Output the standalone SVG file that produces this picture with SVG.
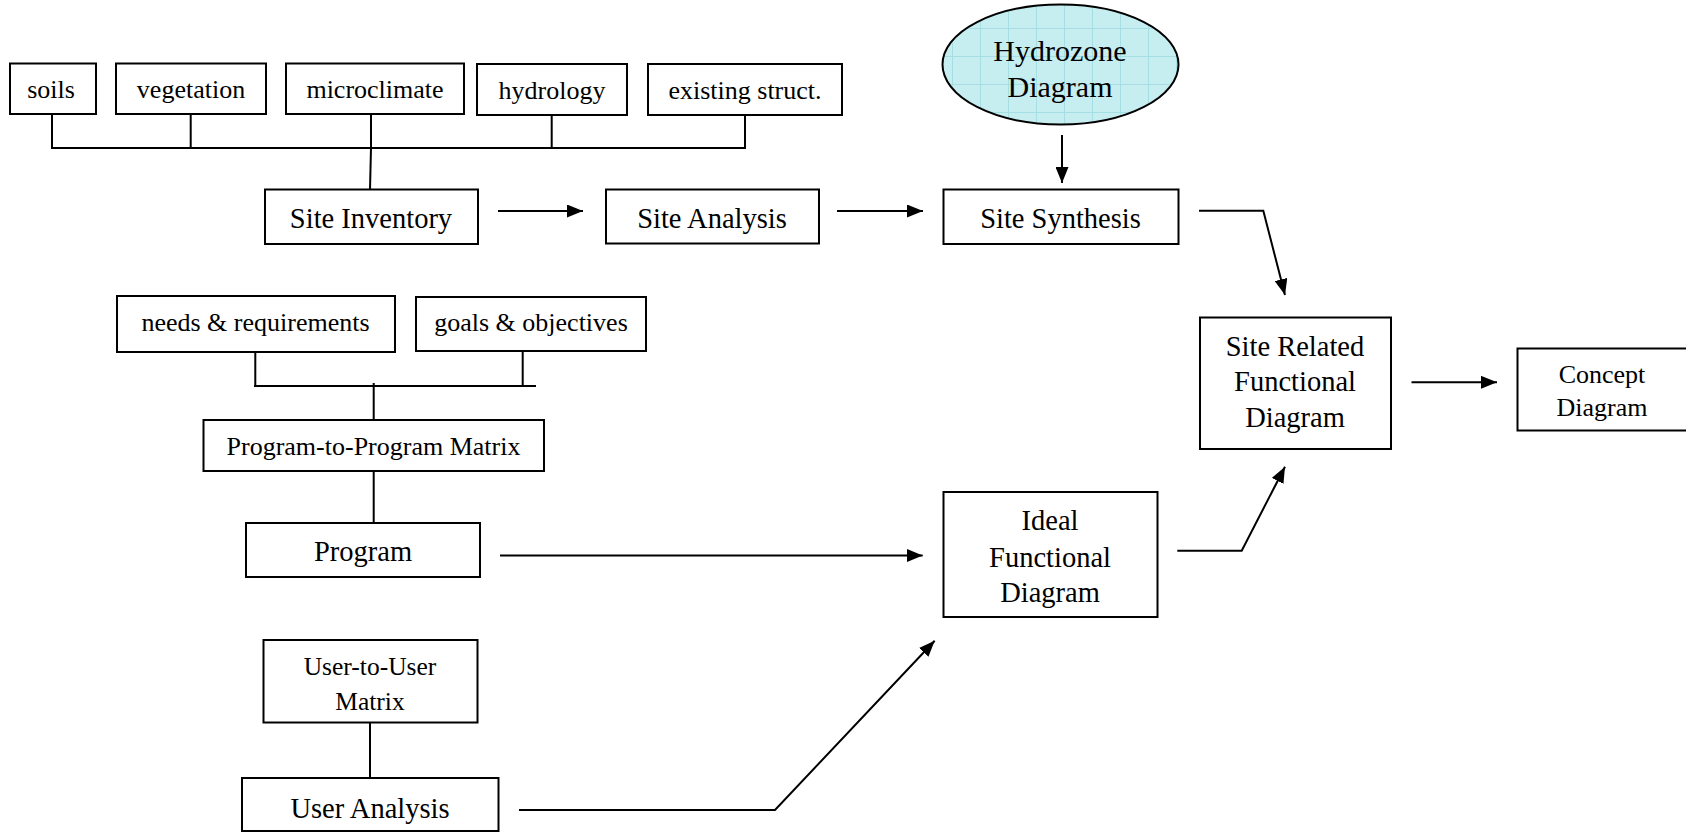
<svg xmlns="http://www.w3.org/2000/svg" width="1686" height="832" viewBox="0 0 1686 832">
<style>
.box{fill:#fff;stroke:#000;stroke-width:2}
.t{font-family:"Liberation Serif","Times New Roman",serif;fill:#000;text-anchor:middle}
.s{font-size:26px}
.m{font-size:28.5px}
.c{fill:none;stroke:#000;stroke-width:2}
.a{fill:none;stroke:#000;stroke-width:2;marker-end:url(#ah)}
</style>
<defs>
<marker id="ah" viewBox="0 0 16 13" refX="16" refY="6.5" markerWidth="16" markerHeight="13" markerUnits="userSpaceOnUse" orient="auto">
<path d="M0,0 L16,6.5 L0,13 z" fill="#000"/>
</marker>
<pattern id="grid" patternUnits="userSpaceOnUse" x="0" y="0" width="28" height="28">
<rect width="28" height="28" fill="#c6edef"/>
<path d="M0,0.5 H28 M0.5,0 V28" stroke="#a6dfe3" stroke-width="1"/>
</pattern>
</defs>
<rect width="1686" height="832" fill="#fff"/>

<g id="connectors">
<path class="c" d="M52,114 V148 H745 V115"/>
<path class="c" d="M190.7,114 V148 M371,114 V148 M551.7,115 V148"/>
<path class="c" d="M371,148 L370,189.5"/>
<path class="a" d="M498,211 H583"/>
<path class="a" d="M837,211 H923"/>
<path class="a" d="M1062,135 V183"/>
<path class="a" d="M1199,210.7 H1263.3 L1285,295"/>
<path class="c" d="M255.3,352 V386 M254,386 H536 M522.7,351 V386 M373.7,383 V420 M373.7,471 V523"/>
<path class="a" d="M500,555.5 H922.7"/>
<path class="c" d="M370,722.5 V778"/>
<path class="a" d="M519,810 H775 L934.7,640.7"/>
<path class="a" d="M1177.3,550.7 H1241.7 L1285,466.7"/>
<path class="a" d="M1411.5,382.3 H1497"/>
</g>

<g id="soils"><rect class="box" x="10" y="63.5" width="86" height="50.5"/><text class="t s" x="51" y="98">soils</text></g>
<g id="vegetation"><rect class="box" x="116" y="63.5" width="150" height="50.5"/><text class="t s" x="191" y="98">vegetation</text></g>
<g id="microclimate"><rect class="box" x="286" y="63.5" width="178" height="50.5"/><text class="t s" x="375" y="98">microclimate</text></g>
<g id="hydrology"><rect class="box" x="477" y="64" width="150" height="51"/><text class="t s" x="552" y="99">hydrology</text></g>
<g id="existing-struct"><rect class="box" x="648" y="64" width="194" height="51"/><text class="t s" x="745" y="99">existing struct.</text></g>

<g id="hydrozone"><ellipse cx="1060.5" cy="64.5" rx="118" ry="60" fill="url(#grid)" stroke="#000" stroke-width="2"/><text class="t" style="font-size:30px" x="1060" y="61">Hydrozone</text><text class="t" style="font-size:30px" x="1060" y="97">Diagram</text></g>

<g id="site-inventory"><rect class="box" x="265" y="189.5" width="213" height="54.5"/><text class="t m" x="371" y="228">Site Inventory</text></g>
<g id="site-analysis"><rect class="box" x="606" y="189.5" width="213" height="54"/><text class="t m" x="712" y="228">Site Analysis</text></g>
<g id="site-synthesis"><rect class="box" x="943.5" y="189.5" width="235" height="54.5"/><text class="t m" x="1060.5" y="228">Site Synthesis</text></g>

<g id="needs"><rect class="box" x="117" y="296" width="278" height="56"/><text class="t s" x="255.5" y="331">needs &amp; requirements</text></g>
<g id="goals"><rect class="box" x="416" y="297" width="230" height="54"/><text class="t s" x="531" y="331">goals &amp; objectives</text></g>
<g id="program-matrix"><rect class="box" x="203.5" y="420" width="340.5" height="51"/><text class="t s" x="373.5" y="455">Program-to-Program Matrix</text></g>
<g id="program"><rect class="box" x="246" y="523" width="234" height="54"/><text class="t m" x="363" y="561">Program</text></g>

<g id="user-matrix"><rect class="box" x="263.5" y="640" width="214" height="82.5"/><text class="t" style="font-size:25.5px" x="370" y="675">User-to-User</text><text class="t" style="font-size:25.5px" x="370" y="709.5">Matrix</text></g>
<g id="user-analysis"><rect class="box" x="242" y="778" width="256.5" height="53"/><text class="t m" x="370" y="818">User Analysis</text></g>

<g id="ideal"><rect class="box" x="943.5" y="492" width="214" height="125"/><text class="t m" x="1050" y="530">Ideal</text><text class="t m" x="1050" y="566.5">Functional</text><text class="t m" x="1050" y="601.5">Diagram</text></g>
<g id="site-related"><rect class="box" x="1200" y="317.5" width="191" height="131.5"/><text class="t m" x="1295" y="356">Site Related</text><text class="t m" x="1295" y="391">Functional</text><text class="t m" x="1295" y="427">Diagram</text></g>
<g id="concept"><rect class="box" x="1517.5" y="348.5" width="200" height="82"/><text class="t" style="font-size:26px" x="1602" y="383">Concept</text><text class="t" style="font-size:26px" x="1602" y="415.5">Diagram</text></g>
</svg>
